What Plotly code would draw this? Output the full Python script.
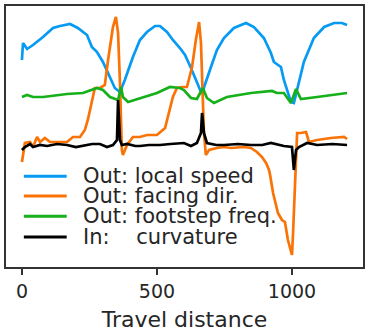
import plotly.graph_objects as go

# ---- data (travel distance vs. normalized signal, arbitrary units) ----
speed_x = [0, 4, 19, 41, 78, 115, 141, 178, 207, 241, 259, 278, 300, 326, 344, 363, 381, 411, 437, 463,
           493, 511, 537, 559, 585, 604, 626, 663, 667, 700, 722, 748, 785, 830, 859, 896, 922, 933, 959, 970,
           996, 1007, 1026, 1044, 1081, 1119, 1156, 1185, 1204]
speed_y = [207, 224, 218, 222, 230, 239, 241, 243, 239, 232, 220, 215, 205, 190, 179, 175, 187, 210, 227, 235,
           241, 241, 235, 227, 219, 212, 199, 175, 174, 200, 217, 229, 239, 244, 240, 229, 214, 205, 200, 187,
           165, 164, 184, 205, 229, 240, 244, 244, 242]

facing_x = [0, 11, 30, 41, 56, 67, 85, 104, 167, 189, 215, 233, 244, 259, 270, 289, 307, 319, 337, 348,
            356, 363, 370, 374, 389, 411, 437, 463, 500, 530, 541, 559, 574, 593, 611, 630, 644, 656, 663, 670,
            674, 681, 693, 722, 748, 774, 822, 848, 870, 889, 904, 915, 919, 930, 948, 963, 974, 985, 1000, 1004,
            1011, 1015, 1019, 1033, 1044, 1052, 1063, 1093, 1144, 1193, 1204]
facing_y = [105, 124, 125, 120, 130, 125, 129, 125, 125, 130, 130, 137, 147, 167, 179, 179, 182, 207, 240, 250,
            234, 184, 117, 112, 122, 130, 130, 132, 132, 139, 150, 170, 179, 180, 180, 200, 227, 245, 224, 167,
            134, 112, 117, 119, 120, 119, 120, 119, 115, 110, 104, 97, 92, 74, 54, 47, 45, 27, 12, 34,
            74, 107, 134, 134, 135, 135, 125, 127, 129, 130, 128]

step_x = [0, 19, 41, 78, 167, 226, 278, 300, 326, 356, 367, 374, 393, 437, 500, 548, 585, 600, 626, 648,
          670, 685, 711, 759, 848, 926, 944, 970, 996, 1015, 1033, 1093, 1204]
step_y = [170, 172, 170, 170, 173, 174, 179, 177, 170, 167, 180, 170, 165, 169, 174, 180, 179, 177, 169, 168,
          179, 169, 164, 170, 174, 176, 174, 174, 164, 178, 168, 170, 174]

curv_x = [0, 11, 30, 41, 67, 93, 130, 167, 200, 226, 260, 289, 315, 337, 352, 356, 363, 370, 389, 420,
          437, 470, 511, 550, 585, 600, 626, 648, 663, 667, 674, 685, 720, 748, 800, 848, 890, 922, 970, 1000,
          1007, 1015, 1026, 1056, 1093, 1150, 1204]
curv_y = [117, 120, 123, 120, 122, 121, 123, 122, 120, 121, 123, 123, 120, 122, 127, 167, 127, 122, 123, 121,
          121, 122, 122, 123, 124, 124, 121, 124, 134, 154, 134, 124, 122, 122, 123, 122, 122, 124, 121, 120,
          97, 117, 120, 124, 122, 123, 122]

x_ticks = [0, 500, 1000]

series_names = ["Out: local speed", "Out: facing dir.", "Out: footstep freq.",
                "In:\u00a0\u00a0\u00a0\u00a0curvature"]
series_colors = ["#069AF3", "#F97306", "#15B01A", "#000000"]

fig = go.Figure()
for xs, ys, name, col in [(speed_x, speed_y, series_names[0], series_colors[0]),
                          (facing_x, facing_y, series_names[1], series_colors[1]),
                          (step_x, step_y, series_names[2], series_colors[2]),
                          (curv_x, curv_y, series_names[3], series_colors[3])]:
    fig.add_trace(go.Scatter(x=xs, y=ys, mode="lines", name=name,
                             line=dict(color=col, width=2.7), showlegend=False))

# legend drawn manually (tight row spacing like the reference)
leg_rows_y = [0.348, 0.272, 0.194, 0.115]
for name, col, yy in zip(series_names, series_colors, leg_rows_y):
    fig.add_shape(type="line", xref="paper", yref="paper", x0=0.05, x1=0.17, y0=yy, y1=yy,
                  line=dict(color=col, width=3))
    fig.add_annotation(xref="paper", yref="paper", x=0.21, y=yy, text=name, showarrow=False,
                       xanchor="left", yanchor="middle",
                       font=dict(family="DejaVu Sans", size=21, color="#262626"))

axis_common = dict(showline=True, mirror=True, linecolor="#333333", linewidth=1.5,
                   showgrid=False, zeroline=False, automargin=False)
fig.update_layout(
    width=369, height=333,
    margin=dict(l=6, r=6, t=6, b=66),
    paper_bgcolor="white", plot_bgcolor="white",
    font=dict(family="DejaVu Sans", color="#262626"),
    xaxis=dict(range=[-59, 1263], tickvals=x_ticks, ticks="outside", ticklen=6, tickwidth=1.5,
               tickcolor="#333333", tickfont=dict(size=19),
               title=dict(text="Travel distance", font=dict(size=22), standoff=11),
               **axis_common),
    yaxis=dict(range=[0, 261], showticklabels=False, ticks="", **axis_common),
)
fig.write_html("out.html", config={"displayModeBar": False},
               post_script="document.body.style.margin='0';document.body.style.overflow='hidden';")
